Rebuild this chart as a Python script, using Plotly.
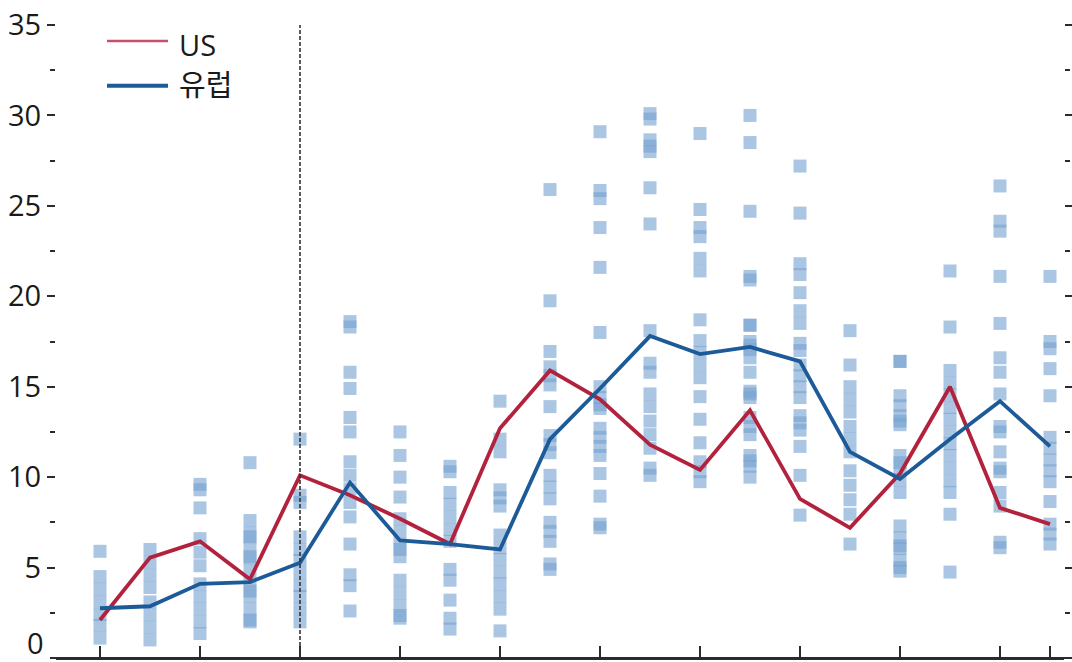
import plotly.graph_objects as go

# ---- data -------------------------------------------------------------
x_idx = list(range(20))                      # period index along the x axis
x_tick_pos = [0, 2, 4, 6, 8, 10, 12, 14, 16, 18, 19]
y_tick_vals = [5, 10, 15, 20, 25, 30, 35]
y_minor_vals = [2.5, 7.5, 12.5, 17.5, 22.5, 27.5, 32.5]
split_period = 4                             # dashed divider

us = [2.1, 5.55, 6.45, 4.35, 10.1, 9.0, 7.7, 6.3, 12.7, 15.9,
      14.3, 11.8, 10.4, 13.7, 8.8, 7.2, 10.2, 15.0, 8.3, 7.4]
europe = [2.75, 2.86, 4.1, 4.2, 5.27, 9.7, 6.5, 6.3, 6.0, 12.1,
          14.9, 17.8, 16.8, 17.2, 16.4, 11.4, 9.9, 12.1, 14.2, 11.7]

# individual European country readings, one list per period
country_values = [
    [5.9, 4.5, 3.8, 3.1, 2.4, 1.8, 1.1],
    [6.0, 5.3, 4.6, 3.9, 3.1, 2.4, 1.7, 1.0],
    [9.6, 9.3, 8.3, 6.6, 5.85, 5.1, 4.1, 3.4, 2.7, 2.0, 1.35],
    [10.8, 7.6, 6.9, 6.2, 5.5, 4.8, 4.1, 3.4, 2.7, 2.0, 6.7, 5.6, 3.7, 2.1],
    [12.1, 9.0, 8.6, 6.7, 6.0, 5.4, 4.7, 4.0, 3.4, 2.7, 2.0],
    [18.6, 18.3, 15.8, 14.9, 13.3, 12.5, 10.85, 10.1, 9.35, 8.6, 7.8, 6.3,
     4.6, 4.0, 2.6],
    [12.5, 11.2, 10.0, 8.9, 7.7, 7.0, 6.3, 5.6, 6.0, 4.3, 3.6, 2.9, 2.2, 2.35],
    [10.6, 10.3, 9.15, 8.5, 7.8, 7.1, 6.45, 4.9, 4.3, 3.2, 2.2, 1.6],
    [14.2, 12.1, 11.4, 9.3, 8.85, 8.4, 6.8, 6.1, 5.45, 4.75, 4.1, 3.4, 2.7, 1.5],
    [25.9, 19.75, 16.95, 16.1, 15.6, 15.1, 13.9, 12.3, 11.8, 11.35, 10.1,
     9.45, 8.8, 7.5, 7.0, 6.45, 5.2, 4.9],
    [29.1, 25.85, 25.4, 23.8, 21.6, 18.0, 15.0, 14.4, 13.8, 14.0, 12.7, 12.2,
     11.7, 11.2, 10.2, 8.95, 7.4, 7.2],
    [30.1, 29.8, 28.65, 28.3, 28.0, 26.0, 24.0, 18.1, 16.3, 15.8, 14.6, 13.9,
     13.1, 12.35, 11.6, 10.5, 10.1],
    [29.0, 24.8, 23.8, 23.3, 22.1, 21.4, 18.7, 17.55, 16.9, 16.2, 15.5,
     14.45, 13.2, 11.9, 10.85, 10.3, 9.75],
    [30.0, 28.5, 24.7, 21.1, 20.9, 18.4, 18.4, 17.5, 17.05, 16.6, 17.3, 15.8,
     14.75, 14.4, 14.6, 13.3, 12.8, 12.35, 11.2, 10.6, 10.0, 10.9],
    [27.2, 24.6, 21.8, 21.2, 20.2, 19.2, 18.5, 17.4, 17.0, 16.2, 15.6, 15.0,
     14.4, 13.4, 13.0, 12.6, 11.7, 10.1, 7.9],
    [18.1, 16.2, 15.0, 14.3, 13.6, 12.8, 12.1, 11.4, 10.35, 9.55, 8.75,
     7.95, 6.3],
    [16.4, 16.4, 14.5, 13.95, 13.4, 12.9, 13.1, 11.2, 10.5, 9.85, 9.15, 10.8,
     7.3, 6.65, 6.05, 5.4, 4.8, 6.2, 5.0],
    [21.4, 18.3, 15.9, 15.2, 14.55, 13.85, 13.2, 12.5, 11.85, 11.2, 10.5,
     9.8, 9.15, 7.95, 4.75],
    [26.1, 24.15, 23.6, 21.1, 18.5, 16.6, 15.8, 14.6, 12.8, 12.5, 11.4, 10.5,
     10.3, 9.15, 8.4, 6.4, 6.1],
    [21.1, 17.5, 17.1, 16.0, 14.5, 12.2, 11.6, 10.95, 10.35, 9.75, 8.65,
     7.4, 6.85, 6.3],
]

# ---- style ------------------------------------------------------------
W, H = 1072, 662
M_L, M_R, M_T, M_B = 56, 8, 22, 4
RED = "#b3223d"
BLUE = "#1c5a98"
SQUARE = "rgba(120,163,208,0.62)"
AXIS = "#2b2b2b"
FONT = "Open Sans, Noto Sans CJK KR, sans-serif"

plot_w = W - M_L - M_R
plot_h = H - M_T - M_B


def px_x(p):
    return (p - M_L) / plot_w


def px_y(p):
    return (H - M_B - p) / plot_h


sx, sy = [], []
for xi, vals in zip(x_idx, country_values):
    sx.extend([xi] * len(vals))
    sy.extend(vals)

fig = go.Figure()

fig.add_trace(go.Scatter(
    x=sx, y=sy, mode="markers",
    marker=dict(symbol="square", size=13, color=SQUARE, line=dict(width=0)),
    showlegend=False, hoverinfo="skip",
))
fig.add_trace(go.Scatter(
    x=x_idx, y=us, mode="lines", name="US",
    line=dict(color=RED, width=3.8), showlegend=False,
))
fig.add_trace(go.Scatter(
    x=x_idx, y=europe, mode="lines", name="유럽",
    line=dict(color=BLUE, width=3.8), showlegend=False,
))

shapes = [
    # divider
    dict(type="line", xref="x", yref="y", x0=split_period, x1=split_period,
         y0=0, y1=35, line=dict(color="#333333", width=1.6, dash="4px,2px"),
         layer="above"),
    # baseline running the full width
    dict(type="line", xref="paper", yref="paper", x0=px_x(50), x1=px_x(1072),
         y0=0, y1=0, line=dict(color=AXIS, width=2)),
    # legend keys
    dict(type="line", xref="paper", yref="paper", x0=px_x(107), x1=px_x(168),
         y0=px_y(38), y1=px_y(38), line=dict(color="#c8506c", width=2.5)),
    dict(type="line", xref="paper", yref="paper", x0=px_x(107), x1=px_x(168),
         y0=px_y(83), y1=px_y(83), line=dict(color=BLUE, width=4)),
]

annotations = [
    dict(text="US", xref="paper", yref="paper", x=px_x(177), y=px_y(42),
         xanchor="left", yanchor="middle", showarrow=False,
         font=dict(family=FONT, size=29, color="#1a1a1a")),
    dict(text="유럽", xref="paper", yref="paper", x=px_x(177), y=px_y(82),
         xanchor="left", yanchor="middle", showarrow=False,
         font=dict(family=FONT, size=29, color="#1a1a1a")),
    dict(text="0", xref="paper", yref="paper", x=px_x(46), y=px_y(642),
         xanchor="right", yanchor="middle", showarrow=False,
         font=dict(family=FONT, size=29, color="#1a1a1a")),
]

fig.update_layout(
    width=W, height=H,
    margin=dict(l=M_L, r=M_R, t=M_T, b=M_B, pad=0),
    paper_bgcolor="white", plot_bgcolor="white",
    font=dict(family=FONT, size=29, color="#1a1a1a"),
    shapes=shapes, annotations=annotations,
    showlegend=False,
    xaxis=dict(
        range=[-0.88, 19.28], showgrid=False, zeroline=False,
        showline=True, linecolor=AXIS, linewidth=2,
        tickmode="array", tickvals=x_tick_pos, showticklabels=False,
        ticks="inside", ticklen=12, tickwidth=2, tickcolor=AXIS,
    ),
    yaxis=dict(
        range=[0, 35], showgrid=False, zeroline=False, showline=False,
        tickmode="array", tickvals=y_tick_vals,
        ticks="outside", ticklen=8, tickwidth=2, tickcolor=AXIS,
        mirror="ticks",
        tickfont=dict(family=FONT, size=29, color="#1a1a1a"),
        minor=dict(tickmode="array", tickvals=y_minor_vals, ticks="outside",
                   ticklen=5, tickwidth=2, tickcolor=AXIS),
    ),
)

fig.write_html("out.html")
